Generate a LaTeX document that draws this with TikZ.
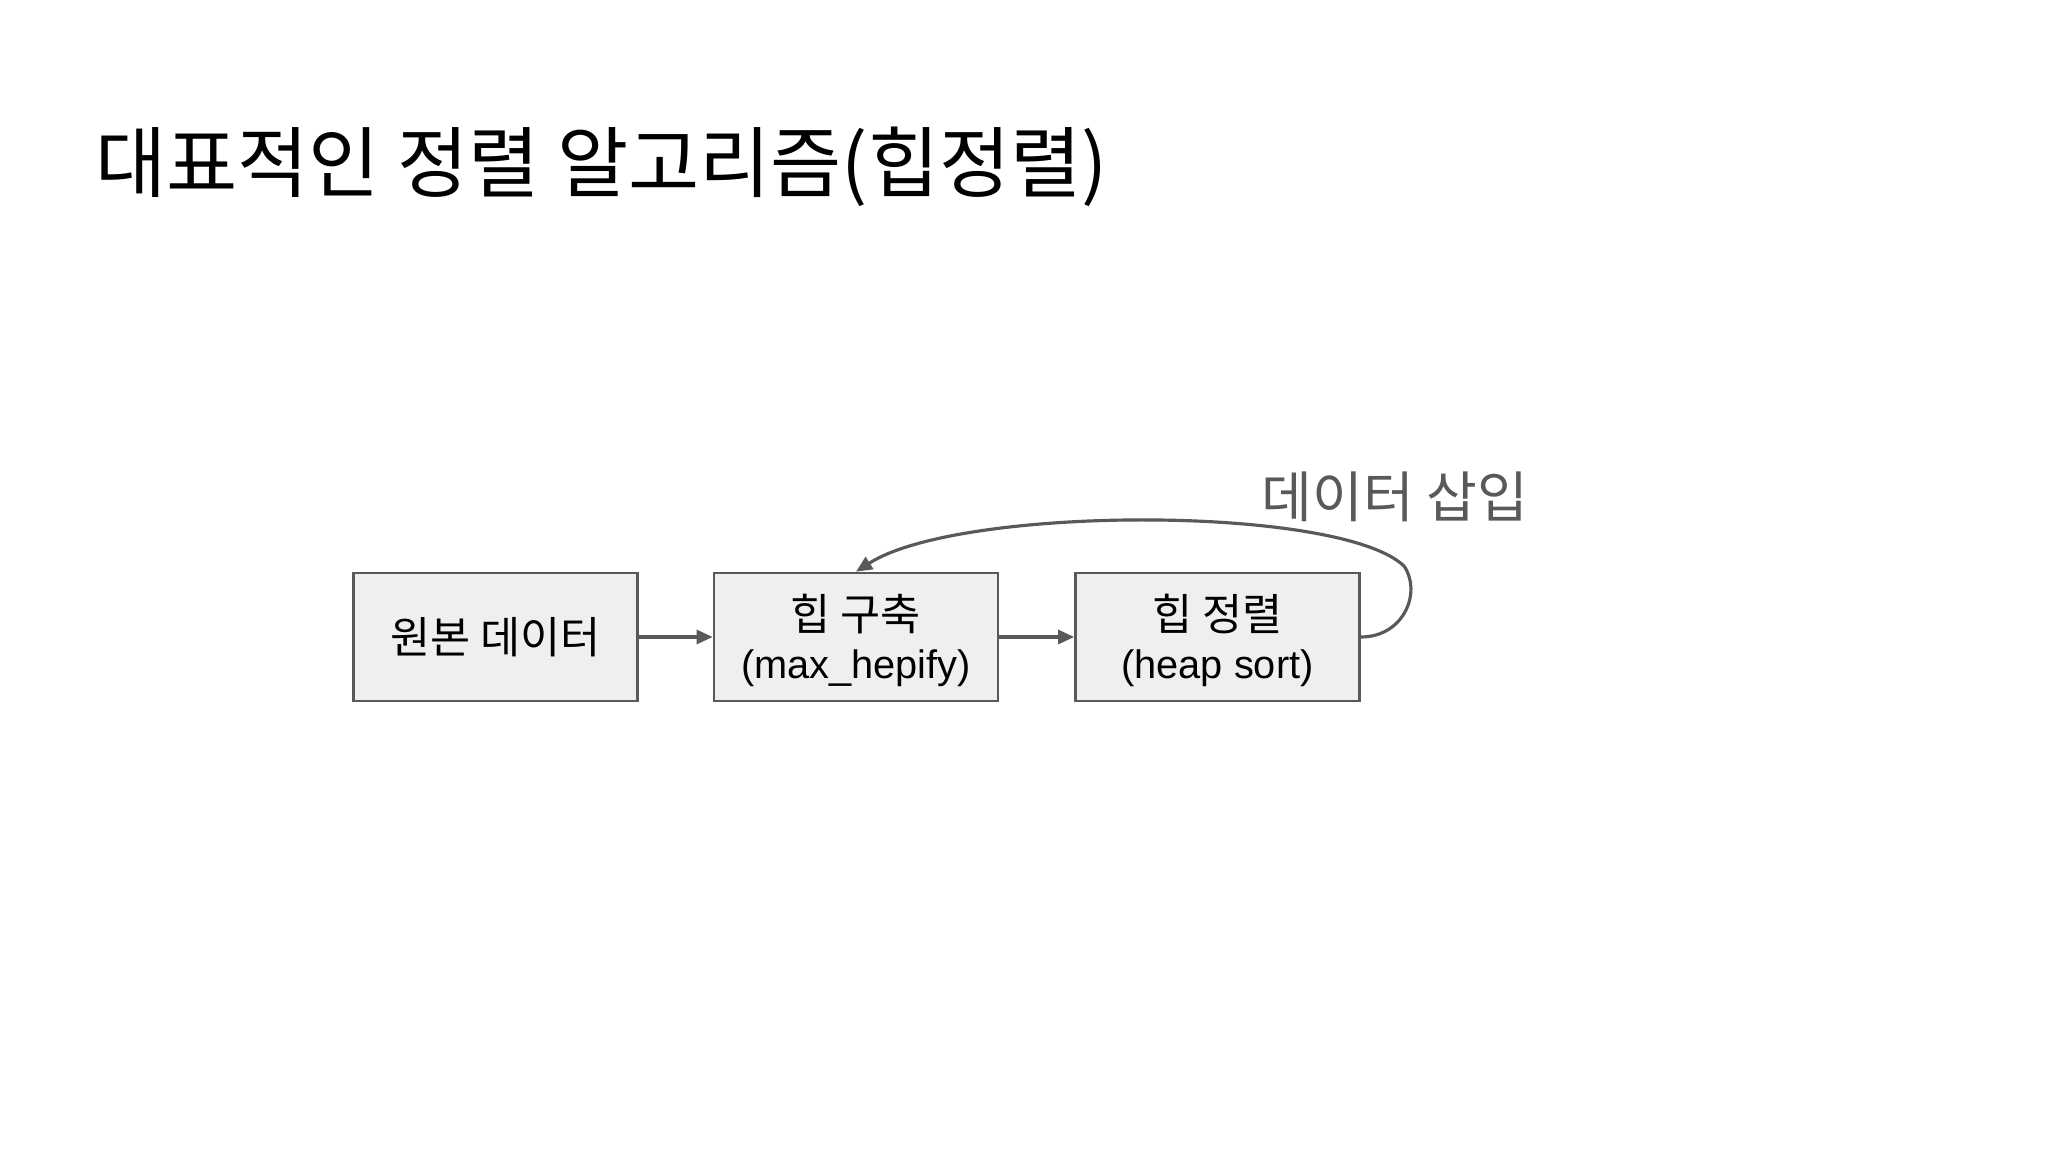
\documentclass[tikz,border=0pt]{standalone}
\usepackage{fontspec}
\setmainfont{Liberation Sans}
\newfontfamily\cjk{Noto Sans CJK KR}
\usetikzlibrary{arrows.meta}
\definecolor{boxfill}{HTML}{EFEFEF}
\definecolor{edge}{HTML}{595959}
\definecolor{lbl}{HTML}{595959}
\begin{document}
\begin{tikzpicture}[x=0.01cm,y=-0.01cm,
  stepbox/.style={draw=edge,fill=boxfill,line width=0.75pt,minimum width=284*0.01cm,minimum height=128*0.01cm,inner sep=0pt,align=center,font=\fontsize{11.3}{14}\selectfont},
  conn/.style={draw=edge,line width=0.9pt,-{Triangle[length=4.6pt,width=4pt]}}]
\useasboundingbox (0,0) rectangle (2048,1152);
\node[anchor=west,font=\cjk\fontsize{22}{26}\selectfont] (title) at (83,167) {대표적인 정렬 알고리즘(힙정렬)};
\node[stepbox] (b1) at (495.5,637) {{\cjk\fontsize{12.4}{15}\selectfont 원본 데이터}};
\node[stepbox] (b2) at (856,637) {{\cjk\fontsize{12.4}{14}\selectfont\rule{0pt}{12.2pt}힙 구축}\\[-0.3pt](max\_hepify)};
\node[stepbox] (b3) at (1217.5,637) {{\cjk\fontsize{12.4}{14}\selectfont\rule{0pt}{12.2pt}힙 정렬}\\[-0.3pt](heap sort)};
\node[font=\cjk\fontsize{15.7}{19}\selectfont,text=lbl] (ins) at (1395,497) {데이터 삽입};
\draw[conn] (b1) -- (b2);
\draw[conn] (b2) -- (b3);
\coordinate (c1) at (1404,566);
\draw[conn] (b3.east) .. controls (1404,637) and (1422,592) .. (c1) .. controls (1340,505) and (960,505) .. (b2.north);
\end{tikzpicture}
\end{document}
